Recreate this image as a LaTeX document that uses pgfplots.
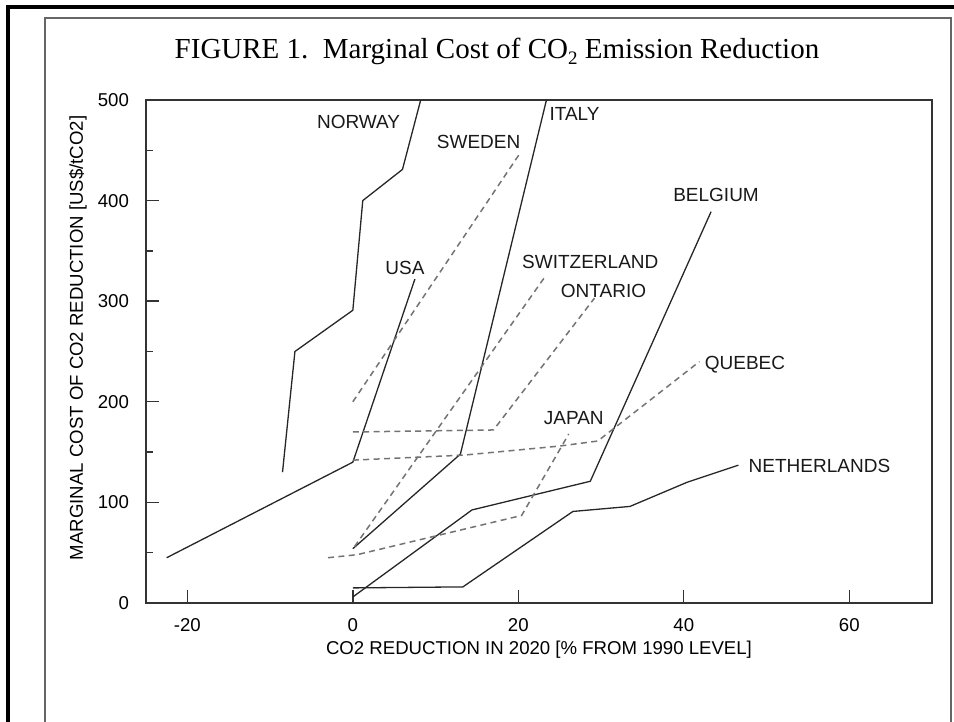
\documentclass[border=0pt]{standalone}
\usepackage{fontspec}
\setmainfont{Liberation Sans}
\newfontfamily\titlefont{Liberation Serif}
\usepackage{pgfplots}
\pgfplotsset{compat=1.18}
\tikzset{
  solidline/.style={draw=black!85, line width=0.65pt},
  dashline/.style={draw=black!55, line width=0.75pt, dash pattern=on 3pt off 2.2pt},
  lbl/.style={font=\fontsize{9.5}{11}\selectfont, text=black!90, inner sep=0pt},
}
\begin{document}
\begin{tikzpicture}
\useasboundingbox (0,0) rectangle (477pt,361pt);
% page frame of the scanned figure
\draw[black!60, line width=0.8pt] (22.5pt,0pt) -- (22.5pt,352pt) -- (475.5pt,352pt) -- (475.5pt,0pt);
\draw[black, line width=1.6pt] (4pt,0pt) -- (4pt,357.5pt) -- (477pt,357.5pt);
\node[font=\titlefont\fontsize{14.5}{17}\selectfont] at (248.5pt,335.5pt) {FIGURE 1.\ \ Marginal Cost of CO\raisebox{-0.45ex}{\fontsize{9.5}{10}\selectfont 2} Emission Reduction};
\begin{axis}[
  at={(73pt,59.5pt)}, anchor=south west, scale only axis,
  width=393pt, height=251.5pt,
  xmin=-25, xmax=70, ymin=0, ymax=500,
  xtick={-20,0,20,40,60}, ytick={0,100,...,500}, minor ytick={50,150,...,450},
  tick pos=left, tick align=inside,
  major tick length=6.5pt, minor tick length=3.5pt,
  axis line style={black!80, line width=0.8pt},
  tick style={black!80, line width=0.7pt},
  ticklabel style={font=\fontsize{9.3}{11}\selectfont},
  /pgf/number format/assume math mode=true,
  xticklabel style={yshift=-4pt}, yticklabel style={xshift=-5pt},
  xlabel={CO2 REDUCTION IN 2020 [\% FROM 1990 LEVEL]},
  ylabel={MARGINAL COST OF CO2 REDUCTION [US\$/tCO2]},
  label style={font=\fontsize{9.3}{11}\selectfont},
  xlabel style={at={(axis description cs:0.5,-0.0934)}, anchor=center},
  ylabel style={at={(axis description cs:-0.0865,0.527)}, anchor=center},
  clip=false,
  every axis plot/.append style={no marks, line join=round},
]
% NORWAY
\addplot[solidline] coordinates {(-8.5,130) (-7,250) (0,291) (1.2,400) (6,431) (8.2,500)};
% USA
\addplot[solidline] coordinates {(-22.5,45) (0,140) (7.5,322)};
% ITALY
\addplot[solidline] coordinates {(0,54) (13,148) (23.4,500)};
% BELGIUM
\addplot[solidline] coordinates {(0,6) (14.4,92.5) (28.7,121) (43.3,389)};
% NETHERLANDS
\addplot[solidline] coordinates {(0,15) (13.3,16) (26.6,91) (33.5,96) (40.4,120) (46.6,137)};
% SWEDEN
\addplot[dashline] coordinates {(0,200) (20.2,447)};
% SWITZERLAND
\addplot[dashline] coordinates {(0.2,56) (23.2,324)};
% ONTARIO
\addplot[dashline] coordinates {(0,170) (17,172) (29.2,303)};
% QUEBEC
\addplot[dashline] coordinates {(0,142) (13.4,147) (25,156) (29.6,161) (41.9,240)};
% JAPAN
\addplot[dashline] coordinates {(-3,45) (0.5,48) (20.4,87) (26.1,168)};
% labels
\node[lbl] at (axis cs:0.7,478) {NORWAY};
\node[lbl] at (axis cs:15.2,458) {SWEDEN};
\node[lbl] at (axis cs:26.8,486.5) {ITALY};
\node[lbl] at (axis cs:6.3,333) {USA};
\node[lbl] at (axis cs:28.7,339) {SWITZERLAND};
\node[lbl] at (axis cs:30.3,310) {ONTARIO};
\node[lbl] at (axis cs:43.9,405.5) {BELGIUM};
\node[lbl] at (axis cs:47.4,237) {QUEBEC};
\node[lbl] at (axis cs:26.7,183.7) {JAPAN};
\node[lbl] at (axis cs:56.4,136) {NETHERLANDS};
\end{axis}
\end{tikzpicture}
\end{document}
